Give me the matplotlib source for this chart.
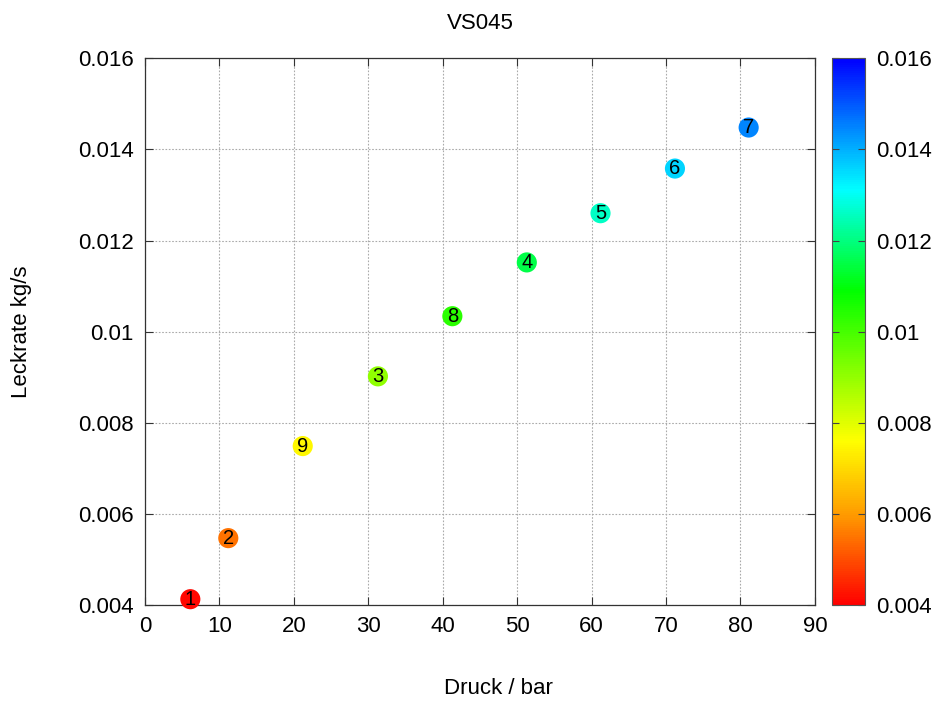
import numpy as np
import matplotlib
matplotlib.use("Agg")
import matplotlib.pyplot as plt
from matplotlib.colors import ListedColormap, hsv_to_rgb

plt.rcParams["font.family"] = ["Liberation Sans", "DejaVu Sans"]

# Messpunkte: Druck in bar, Leckrate in kg/s, Nummer des Versuchs
druck = [6.1, 11.2, 21.2, 31.3, 41.3, 51.3, 61.2, 71.2, 81.1]
leckrate = [0.00413, 0.00547, 0.00749, 0.00902, 0.01034, 0.01152, 0.0126, 0.01358, 0.01448]
nummer = ["1", "2", "9", "3", "8", "4", "5", "6", "7"]

x_ticks = [0, 10, 20, 30, 40, 50, 60, 70, 80, 90]
y_ticks = [0.004, 0.006, 0.008, 0.01, 0.012, 0.014, 0.016]
y_labels = ["0.004", "0.006", "0.008", "0.01", "0.012", "0.014", "0.016"]

# Palette rot -> orange -> gelb -> grün -> cyan -> blau, Farbton stückweise linear
stuetz_pos = [0.0, 0.167, 0.30, 0.575, 0.76, 1.0]
stuetz_hue = [0.0, 37 / 360, 1 / 6, 2 / 6, 3 / 6, 4 / 6]
t = np.linspace(0, 1, 256)
hue = np.interp(t, stuetz_pos, stuetz_hue)
hsv = np.stack([hue, np.ones_like(hue), np.ones_like(hue)], axis=1)
cmap = ListedColormap(hsv_to_rgb(hsv))

fs = 16

fig = plt.figure(figsize=(9.41, 7.02), dpi=100)
ax = fig.add_axes([0.154, 0.138, 0.712, 0.779])
cax = fig.add_axes([0.884, 0.138, 0.035, 0.779])

sc = ax.scatter(druck, leckrate, c=leckrate, cmap=cmap, vmin=0.004, vmax=0.016,
                s=210, edgecolors="none", zorder=3, clip_on=False)
for x, y, n in zip(druck, leckrate, nummer):
    ax.text(x, y, n, ha="center", va="center", fontsize=14.5, color="black", zorder=4)

ax.set_xlim(0, 90)
ax.set_ylim(0.004, 0.016)
ax.set_xticks(x_ticks)
ax.set_xticklabels([str(t) for t in x_ticks])
ax.set_yticks(y_ticks)
ax.set_yticklabels(y_labels)
ax.tick_params(direction="in", length=6, width=0.8, top=True, right=True,
               labelsize=fs, color="#333333", pad=8)
ax.grid(True, linestyle=(0, (1.5, 1.5)), color="#aaaaaa", linewidth=0.8)
ax.set_axisbelow(True)
for sp in ax.spines.values():
    sp.set_color("#333333")
    sp.set_linewidth(0.9)

ax.set_title("VS045", fontsize=fs, pad=21)
ax.set_xlabel("Druck / bar", fontsize=fs, va="center")
ax.xaxis.set_label_coords(0.527, -0.152)
ax.set_ylabel("Leckrate kg/s", fontsize=fs, labelpad=33)

cb = fig.colorbar(sc, cax=cax)
cb.set_ticks(y_ticks)
cb.set_ticklabels(y_labels)
cb.outline.set_edgecolor("#555555")
cb.outline.set_linewidth(0.8)
cax.tick_params(direction="in", length=5, width=0.8, left=True, right=True,
                labelsize=fs, color="#444444", pad=8)

fig.savefig("out.png", dpi=100)
plt.close(fig)
